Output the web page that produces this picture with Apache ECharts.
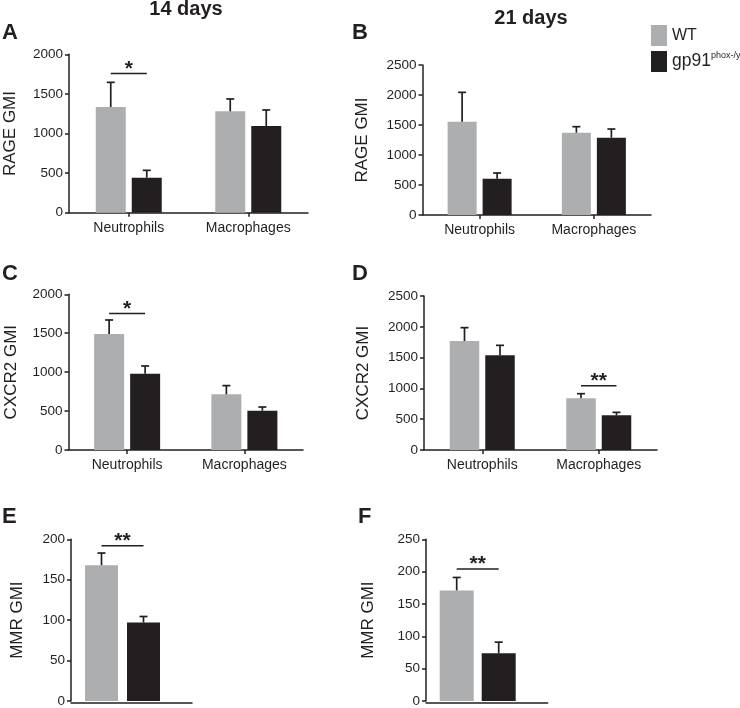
<!DOCTYPE html>
<html>
<head>
<meta charset="utf-8">
<script src="https://cdn.jsdelivr.net/npm/echarts@6/dist/echarts.min.js"></script>
<style>html,body{margin:0;padding:0;background:#fff}#c{width:740px;height:708px}</style>
</head>
<body>
<div id="c"></div>
<script>
// ---------- data ----------
const categories = ['Neutrophils', 'Macrophages'];
const mmrCategories = ['MMR'];
const seriesNames = ['WT', 'gp91phox-/y'];
const titles = ['14 days', '21 days'];
const panelLetters = ['A', 'B', 'C', 'D', 'E', 'F'];
const yNames = ['RAGE GMI', 'RAGE GMI', 'CXCR2 GMI', 'CXCR2 GMI', 'MMR GMI', 'MMR GMI'];

// A: RAGE, 14 days
const rage14WT = [1335, 1280], rage14WTErr = [311, 156];
const rage14KO = [442, 1095], rage14KOErr = [93, 202];
// B: RAGE, 21 days
const rage21WT = [1556, 1372], rage21WTErr = [488, 100];
const rage21KO = [606, 1289], rage21KOErr = [94, 144];
// C: CXCR2, 14 days
const cxcr14WT = [1490, 715], cxcr14WTErr = [180, 112];
const cxcr14KO = [981, 505], cxcr14KOErr = [98, 47];
// D: CXCR2, 21 days
const cxcr21WT = [1769, 839], cxcr21WTErr = [217, 75];
const cxcr21KO = [1537, 563], cxcr21KOErr = [162, 48];
// E: MMR, 14 days
const mmr14WT = [168], mmr14WTErr = [15];
const mmr14KO = [97], mmr14KOErr = [7.5];
// F: MMR, 21 days
const mmr21WT = [171], mmr21WTErr = [20];
const mmr21KO = [74], mmr21KOErr = [17];

// significance brackets: [category index, y value], label
const sigA = [[0, 1756]], sigALabel = ['*'];
const sigB = [], sigBLabel = [];
const sigC = [[0, 1752]], sigCLabel = ['*'];
const sigD = [[1, 1044]], sigDLabel = ['**'];
const sigE = [[0, 192]], sigELabel = ['**'];
const sigF = [[0, 204]], sigFLabel = ['**'];

// y axis ranges
const yMax = [2000, 2500, 2000, 2500, 200, 250];
const yInterval = [500, 500, 500, 500, 50, 50];

// ---------- style / layout ----------
const FONT = "'Liberation Sans', Arial, Helvetica, sans-serif";
const INK = '#231f20';
const GRAY = '#adaeb0';

const panels = [
  {grid:{left:69, top:54.3, width:239, height:158.4}, cats:categories, wt:rage14WT, wtE:rage14WTErr, ko:rage14KO, koE:rage14KOErr, sig:sigA, sigL:sigALabel, bw:30, gap:6, nameGap:50, showX:true},
  {grid:{left:422.5, top:65, width:228.5, height:150}, cats:categories, wt:rage21WT, wtE:rage21WTErr, ko:rage21KO, koE:rage21KOErr, sig:sigB, sigL:sigBLabel, bw:29, gap:6, nameGap:52, showX:true},
  {grid:{left:68.5, top:294.3, width:234.5, height:155.7}, cats:categories, wt:cxcr14WT, wtE:cxcr14WTErr, ko:cxcr14KO, koE:cxcr14KOErr, sig:sigC, sigL:sigCLabel, bw:30, gap:6, nameGap:49, showX:true},
  {grid:{left:424, top:296, width:233, height:154}, cats:categories, wt:cxcr21WT, wtE:cxcr21WTErr, ko:cxcr21KO, koE:cxcr21KOErr, sig:sigD, sigL:sigDLabel, bw:29.5, gap:6, nameGap:52, showX:true},
  {grid:{left:71, top:539.3, width:103, height:163}, cats:mmrCategories, wt:mmr14WT, wtE:mmr14WTErr, ko:mmr14KO, koE:mmr14KOErr, sig:sigE, sigL:sigELabel, bw:33, gap:9, nameGap:45, showX:false, axisW:121},
  {grid:{left:426, top:539.3, width:103.4, height:163}, cats:mmrCategories, wt:mmr21WT, wtE:mmr21WTErr, ko:mmr21KO, koE:mmr21KOErr, sig:sigF, sigL:sigFLabel, bw:34, gap:8, nameGap:49, showX:false, axisW:121.7}
];

const grids = [], xAxes = [], yAxes = [], series = [];
const axisLineStyle = {color: INK, width: 1.5};

function errRender(off, cap) {
  return function (params, api) {
    const c = api.value(0), v = api.value(1), e = api.value(2);
    const p0 = api.coord([c, v]);
    const p1 = api.coord([c, v + e]);
    const x = p0[0] + off;
    const st = {stroke: INK, lineWidth: 1.7};
    return {type: 'group', children: [
      {type: 'line', shape: {x1: x, y1: p0[1], x2: x, y2: p1[1]}, style: st},
      {type: 'line', shape: {x1: x - cap / 2, y1: p1[1], x2: x + cap / 2, y2: p1[1]}, style: st}
    ]};
  };
}
function sigRender(off, labels) {
  return function (params, api) {
    const c = api.value(0), v = api.value(1);
    const p = api.coord([c, v]);
    return {type: 'group', children: [
      {type: 'line', shape: {x1: p[0] - off, y1: p[1], x2: p[0] + off, y2: p[1]}, style: {stroke: INK, lineWidth: 1.5}},
      {type: 'text', style: {text: labels[params.dataIndex], x: p[0], y: p[1] + 6, textAlign: 'center', textVerticalAlign: 'bottom', font: 'bold 21px ' + FONT, fill: INK}}
    ]};
  };
}

panels.forEach((p, i) => {
  grids.push(p.grid);
  xAxes.push({
    type: 'category', gridIndex: i, data: p.cats,
    axisLine: {show: p.showX, lineStyle: axisLineStyle},
    axisTick: {show: p.showX, alignWithLabel: true, length: 4, lineStyle: axisLineStyle},
    axisLabel: {show: p.showX, fontSize: 14, color: INK, fontFamily: FONT, margin: 8},
    splitLine: {show: false}
  });
  yAxes.push({
    type: 'value', gridIndex: i, min: 0, max: yMax[i], interval: yInterval[i],
    name: yNames[i], nameLocation: 'middle', nameRotate: 90, nameGap: p.nameGap,
    nameTextStyle: {fontSize: 17, color: INK, fontFamily: FONT},
    axisLine: {show: true, lineStyle: axisLineStyle},
    axisTick: {show: true, length: 4, lineStyle: axisLineStyle},
    axisLabel: {fontSize: 13.5, color: INK, fontFamily: FONT, margin: 6, formatter: v => String(v)},
    splitLine: {show: false}
  });
  const barGap = (p.gap / p.bw * 100) + '%';
  series.push({type: 'bar', name: seriesNames[0], xAxisIndex: i, yAxisIndex: i, data: p.wt, barWidth: p.bw, barGap: barGap, itemStyle: {color: GRAY}, z: 2, silent: true});
  series.push({type: 'bar', name: seriesNames[1], xAxisIndex: i, yAxisIndex: i, data: p.ko, barWidth: p.bw, barGap: barGap, itemStyle: {color: INK}, z: 2, silent: true});
  const off = (p.bw + p.gap) / 2;
  series.push({type: 'custom', xAxisIndex: i, yAxisIndex: i, z: 3, silent: true,
    renderItem: errRender(-off, 8), encode: {x: 0, y: 1},
    data: p.wt.map((v, k) => [k, v, p.wtE[k]])});
  series.push({type: 'custom', xAxisIndex: i, yAxisIndex: i, z: 3, silent: true,
    renderItem: errRender(off, 8), encode: {x: 0, y: 1},
    data: p.ko.map((v, k) => [k, v, p.koE[k]])});
  if (p.sig.length) {
    series.push({type: 'custom', xAxisIndex: i, yAxisIndex: i, z: 3, silent: true,
      renderItem: sigRender(off, p.sigL), encode: {x: 0, y: 1}, data: p.sig});
  }
});

// extended bottom axis lines for the single-group MMR panels
panels.forEach((p, i) => {
  if (p.showX) return;
  const gi = grids.length;
  grids.push({left: p.grid.left, top: p.grid.top, width: p.axisW, height: p.grid.height});
  xAxes.push({type: 'value', gridIndex: gi, min: 0, max: 1, axisLine: {show: true, lineStyle: axisLineStyle}, axisTick: {show: false}, axisLabel: {show: false}, splitLine: {show: false}});
  yAxes.push({type: 'value', gridIndex: gi, min: 0, max: 1, show: false});
});

const txt = (s, x, y, size, align) => ({type: 'text', x: x, y: y, style: {text: s, font: 'bold ' + size + 'px ' + FONT, fill: INK, textAlign: align || 'left', textVerticalAlign: 'middle'}});

const option = {
  animation: false,
  backgroundColor: '#fff',
  textStyle: {fontFamily: FONT},
  grid: grids, xAxis: xAxes, yAxis: yAxes, series: series,
  legend: {
    left: 651, top: 25, padding: 0, orient: 'vertical', icon: 'rect', itemWidth: 16, itemHeight: 21, itemGap: 5,
    selectedMode: false, data: seriesNames,
    formatter: n => n === seriesNames[0] ? '{w|WT}' : '{a|gp91}{b|phox-/y}',
    textStyle: {color: INK, fontFamily: FONT, fontSize: 16,
      rich: {w: {fontSize: 16, lineHeight: 20, color: INK, fontFamily: FONT},
             a: {fontSize: 17.5, lineHeight: 20, color: INK, fontFamily: FONT},
             b: {fontSize: 9, lineHeight: 20, verticalAlign: 'top', color: INK, fontFamily: FONT, padding: [0, 0, 7, 0]}}}
  },
  graphic: [
    txt(titles[0], 186, 9, 20, 'center'),
    txt(titles[1], 531, 18, 20, 'center'),
    txt(panelLetters[0], 2, 33.4, 22),
    txt(panelLetters[1], 352, 33.4, 22),
    txt(panelLetters[2], 2, 274.4, 22),
    txt(panelLetters[3], 352, 274.4, 22),
    txt(panelLetters[4], 2, 517.4, 22),
    txt(panelLetters[5], 358, 517.4, 22)
  ]
};

const chart = echarts.init(document.getElementById('c'), null, {renderer: 'canvas'});
chart.setOption(option);
</script>
</body>
</html>
